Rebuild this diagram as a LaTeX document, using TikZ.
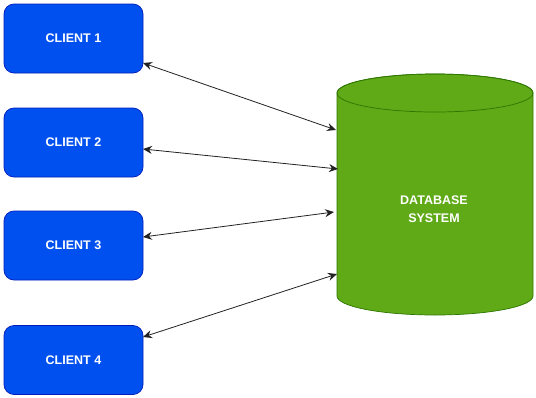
\documentclass[tikz,border=0pt]{standalone}
\usepackage{fontspec}
\setmainfont{Liberation Sans}
\usetikzlibrary{arrows.meta}
\definecolor{cblue}{HTML}{0050EF}
\definecolor{cblueb}{HTML}{001DBC}
\definecolor{cgreen}{HTML}{60A917}
\definecolor{cgreenb}{HTML}{2D7600}
\definecolor{cline}{HTML}{222222}
\tikzset{
  client/.style={draw=cblueb, fill=cblue, rounded corners=10pt, minimum width=139pt, minimum height=69pt,
    text=white, font=\fontsize{12.5}{16}\selectfont\bfseries, inner sep=0pt, line width=0.7pt},
  link/.style={draw=cline, line width=0.8pt, {Stealth[length=9pt,width=8pt,inset=3pt]}-{Stealth[length=9pt,width=8pt,inset=3pt]}},
  dblabel/.style={text=white, font=\fontsize{12.5}{18}\selectfont\bfseries, align=center}
}
\begin{document}
\begin{tikzpicture}[x=1pt,y=-1pt]
\useasboundingbox (0,0) rectangle (536,397);
\node[client] (c1) at (73.5,38.5) {CLIENT 1};
\node[client] (c2) at (73.5,142.5) {CLIENT 2};
\node[client] (c3) at (73.5,245.5) {CLIENT 3};
\node[client] (c4) at (73.5,360) {CLIENT 4};
% cylinder
\path[draw=cgreenb, fill=cgreen, line width=0.7pt]
  (337,93) -- (337,296) arc[start angle=180, end angle=360, x radius=98pt, y radius=19pt]
  -- (533,93) arc[start angle=0, end angle=180, x radius=98pt, y radius=19pt] -- cycle;
\draw[cgreenb, line width=0.7pt] (435,93) ellipse [x radius=98pt, y radius=19pt];
\node[dblabel] (db) at (434,209) {DATABASE\\SYSTEM};
\coordinate (d1) at (336,130);
\coordinate (d2) at (338,169);
\coordinate (d3) at (334,212);
\coordinate (d4) at (337,274);
\coordinate (e1) at (143,63);
\coordinate (e2) at (143,149);
\coordinate (e3) at (143,237);
\coordinate (e4) at (143,337);
\draw[link] (e1) -- (d1);
\draw[link] (e2) -- (d2);
\draw[link] (e3) -- (d3);
\draw[link] (e4) -- (d4);
\end{tikzpicture}
\end{document}
